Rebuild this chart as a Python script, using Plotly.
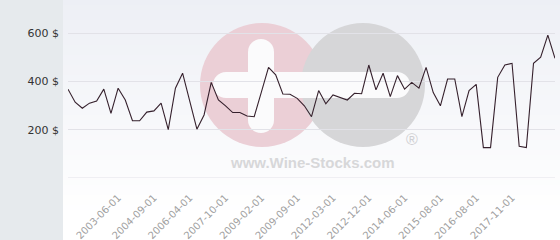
import plotly.graph_objects as go

# ---- data ----
prices = [368, 314, 289, 310, 319, 368, 268, 372, 323, 237,
          237, 273, 278, 310, 200, 372, 434, 323, 202, 261,
          396, 323, 299, 271, 271, 257, 254, 356, 458, 427,
          348, 347, 330, 299, 254, 362, 307, 344, 333, 323,
          351, 349, 468, 365, 434, 337, 424, 368, 396, 372,
          458, 354, 299, 410, 410, 254, 362, 388, 126, 126,
          417, 468, 475, 131, 126, 475, 500, 592, 496]
point_index = list(range(len(prices)))
tick_positions = [7, 12, 17, 22, 27, 32, 37, 42, 47, 52, 57, 62]
tick_labels = ["2003-06-01", "2004-09-01", "2006-04-01", "2007-10-01",
               "2009-02-01", "2009-09-01", "2012-03-01", "2012-12-01",
               "2014-06-01", "2015-08-01", "2016-08-01", "2017-11-01"]
y_ticks = [0, 200, 400, 600]
y_tick_labels = ["", "200 $", "400 $", "600 $"]

# ---- layout geometry ----
W, H = 560, 240
ML, MR, MT, MB = 68, 5, 9, 62
PW, PH = W - ML - MR, H - MT - MB


def px(x):
    return (x - ML) / PW


def py(y):
    return (H - MB - y) / PH


shapes = []
# left sidebar
shapes.append(dict(type="rect", xref="paper", yref="paper", layer="below",
                   x0=px(0), x1=px(63), y0=py(H), y1=py(0),
                   fillcolor="#e6eaed", line=dict(width=0)))
# vertical gradient background
n = 48
for i in range(n):
    y0 = i * H / n
    y1 = (i + 1) * H / n
    t = min(1.0, (y0 + y1) / 2 / 215.0)
    c0 = (237, 239, 245)
    c = tuple(int(round(c0[k] + (255 - c0[k]) * t)) for k in range(3))
    shapes.append(dict(type="rect", xref="paper", yref="paper", layer="below",
                       x0=px(63), x1=px(W), y0=py(y1), y1=py(y0),
                       fillcolor="rgb(%d,%d,%d)" % c, line=dict(width=0)))

# watermark
def circle(cx, cy, r, color):
    return dict(type="circle", xref="paper", yref="paper", layer="below",
                x0=px(cx - r), x1=px(cx + r), y0=py(cy + r), y1=py(cy - r),
                fillcolor=color, line=dict(width=0))


def rect(x0, y0, x1, y1, color):
    return dict(type="rect", xref="paper", yref="paper", layer="below",
                x0=px(x0), x1=px(x1), y0=py(y1), y1=py(y0),
                fillcolor=color, line=dict(width=0))


pink = "#ebcfd6"
grey = "#d6d6d8"
wm = "#fbfbfc"
shapes.append(circle(262, 85, 62, pink))
shapes.append(circle(363, 85, 62, grey))
r = 13
shapes.append(rect(248, 39 + r, 274, 133 - r, wm))
shapes.append(circle(261, 39 + r, r, wm))
shapes.append(circle(261, 133 - r, r, wm))
shapes.append(rect(213 + r, 72, 410 - r, 98, wm))
shapes.append(circle(213 + r, 85, r, wm))
shapes.append(circle(410 - r, 85, r, wm))

# baseline grid line at zero (range edge)
shapes.append(dict(type="line", xref="paper", yref="y", layer="below",
                   x0=0, x1=1, y0=0, y1=0,
                   line=dict(color="#e2e2e8", width=1)))

annotations = [
    dict(text="<b>www.Wine-Stocks.com</b>", xref="paper", yref="paper",
         x=px(312), y=py(162), showarrow=False,
         font=dict(family="Liberation Sans", size=15, color="#d7d7d9"),
         xanchor="center", yanchor="middle"),
    dict(text="®", xref="paper", yref="paper",
         x=px(412), y=py(139), showarrow=False,
         font=dict(family="Liberation Sans", size=16, color="#cfcfd2"),
         xanchor="center", yanchor="middle"),
]

fig = go.Figure()
fig.add_trace(go.Scatter(x=point_index, y=prices, mode="lines",
                         line=dict(color="#35202c", width=1.1),
                         hoverinfo="skip"))

fig.update_layout(
    width=W, height=H,
    margin=dict(l=ML, r=MR, t=MT, b=MB, pad=0),
    paper_bgcolor="white",
    plot_bgcolor="rgba(0,0,0,0)",
    showlegend=False,
    shapes=shapes,
    annotations=annotations,
    xaxis=dict(range=[0, len(prices) - 1], tickmode="array",
               tickvals=tick_positions, ticktext=tick_labels,
               tickangle=-45, showgrid=False, zeroline=False,
               showline=False, ticks="", ticklabelstandoff=11,
               automargin=False,
               tickfont=dict(family="DejaVu Sans", size=10, color="#a0a0a0")),
    yaxis=dict(range=[0, 700], tickmode="array", tickvals=y_ticks,
               ticktext=y_tick_labels, showgrid=True, gridcolor="#e2e2e8",
               gridwidth=1, zeroline=False, showline=False, ticks="",
               ticklabelstandoff=8, automargin=False,
               tickfont=dict(family="DejaVu Sans", size=11, color="#333333")),
)

fig.write_html("out.html")
